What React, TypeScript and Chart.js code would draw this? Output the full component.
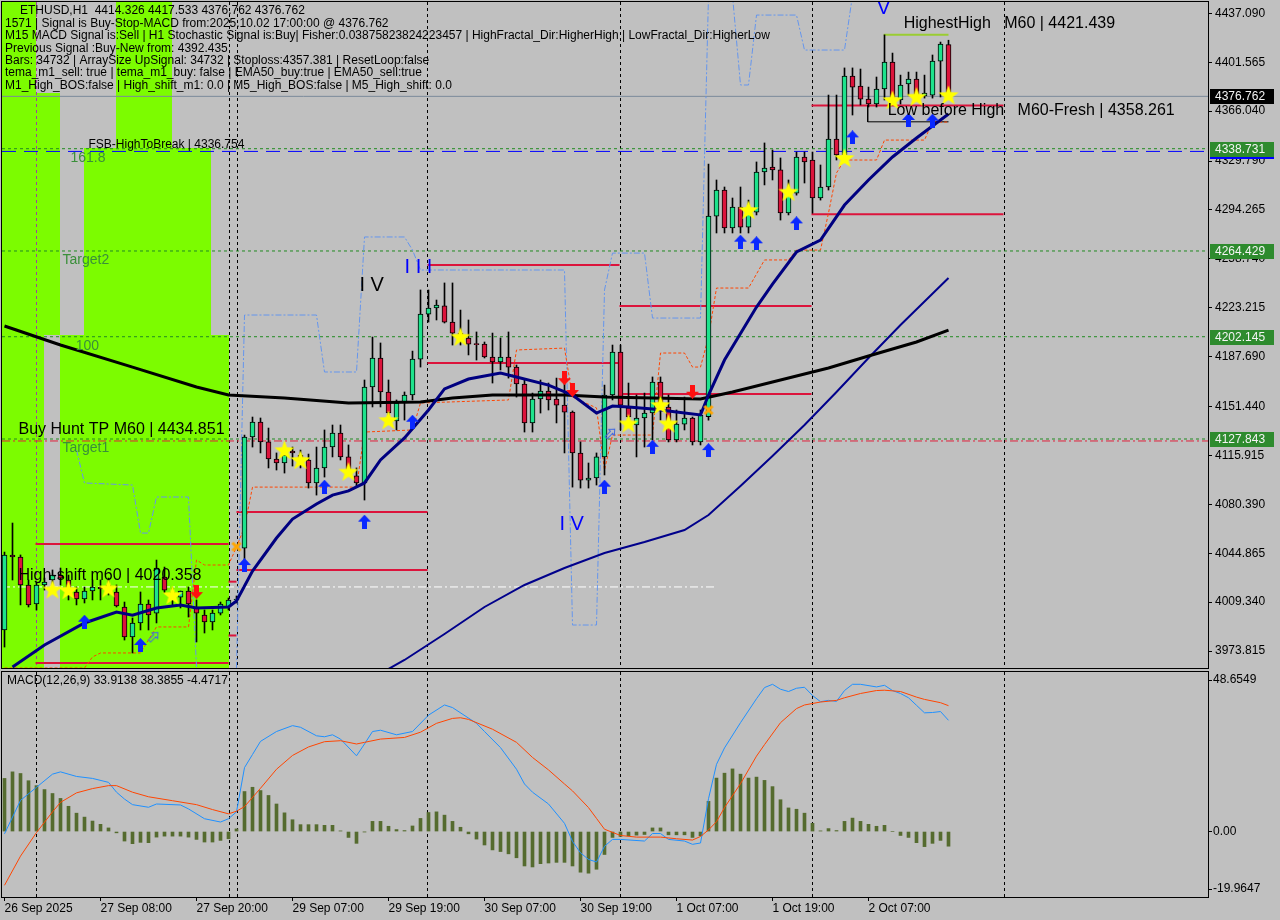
import React, { useEffect, useRef } from 'react';
import { Chart, registerables } from 'chart.js';

Chart.register(...registerables);

// ---------------- colours / fonts ----------------
const BG = '#c0c0c0';
const LIME = '#7cfc00';
const BULL = '#1ee38c';
const BEAR = '#dc143c';
const FONT = '"Liberation Sans", Arial, sans-serif';

// ---------------- candles (ETHUSD H1) ----------------
const OPEN = [3989.1,4043.6,4042.1,4021.8,4008.0,4021.8,4025.4,4029.0,4025.4,4016.7,
4011.6,4017.4,4020.3,4018.1,4016.7,4005.8,3984.0,3994.2,4008.0,4001.4,
4027.6,4016.7,4013.0,4017.4,4005.8,4000.0,3994.9,4001.4,4005.8,4010.9,
4048.6,4129.3,4140.2,4125.7,4113.3,4110.4,4119.1,4116.2,4112.6,4095.9,
4106.8,4122.0,4132.2,4114.8,4101.0,4095.9,4165.6,4186.7,4162.0,4140.9,
4154.0,4159.8,4185.9,4218.6,4223.0,4224.5,4212.8,4204.8,4201.2,4196.8,
4196.8,4187.4,4183.8,4187.4,4180.1,4167.8,4139.5,4156.9,4162.7,4156.9,
4152.5,4147.4,4117.7,4098.0,4099.5,4114.8,4159.8,4191.0,4150.4,4138.0,
4143.1,4146.7,4169.2,4151.1,4127.1,4138.7,4143.1,4125.7,4144.0,4289.8,
4308.7,4281.1,4296.4,4281.8,4292.7,4321.8,4325.4,4323.3,4292.0,4306.5,
4332.7,4330.5,4302.9,4310.9,4345.7,4334.2,4391.5,4384.3,4374.8,4371.2,
4382.1,4401.7,4374.1,4385.7,4389.3,4377.0,4377.7,4402.4,4414.326];
const HIGH = [4045.7,4066.8,4043.6,4025.4,4023.9,4026.8,4032.7,4034.1,4029.0,4020.3,
4020.3,4025.4,4025.4,4026.8,4021.8,4009.4,3997.8,4016.7,4010.9,4039.9,
4034.8,4019.6,4017.4,4020.3,4010.9,4003.6,4003.6,4009.4,4012.3,4013.8,
4130.7,4143.8,4143.1,4135.8,4117.7,4122.0,4122.0,4119.8,4116.9,4122.0,
4134.4,4138.0,4138.0,4123.5,4106.8,4170.7,4201.9,4197.6,4170.7,4156.2,
4162.0,4191.7,4236.1,4236.1,4228.8,4241.2,4241.2,4221.5,4214.3,4205.6,
4198.3,4204.8,4201.2,4205.6,4181.6,4170.7,4161.2,4170.7,4168.5,4172.1,
4172.9,4148.2,4125.7,4110.4,4117.7,4167.0,4196.1,4196.1,4168.5,4159.8,
4161.2,4172.9,4172.9,4159.8,4148.9,4158.3,4143.8,4148.9,4327.6,4316.0,
4310.9,4302.9,4310.9,4301.4,4329.1,4342.9,4337.8,4332.0,4316.0,4336.3,
4336.3,4336.3,4326.9,4377.7,4377.7,4397.4,4397.4,4396.6,4383.5,4390.8,
4421.4,4408.2,4392.2,4394.4,4394.4,4392.2,4406.8,4416.2,4417.533];
const LOW = [3976.7,4025.4,4007.3,4005.8,4003.6,4018.1,4018.1,4021.8,4010.9,4007.3,
4008.7,4010.9,4010.9,4014.5,4005.8,3981.8,3972.4,3989.1,3989.1,3994.2,
4016.0,4007.3,4005.1,3998.5,3980.4,3986.9,3989.1,4000.0,4003.6,4008.7,
4039.9,4122.0,4117.7,4106.8,4105.3,4103.1,4108.2,4106.8,4092.2,4087.1,
4100.2,4114.8,4112.6,4101.7,4092.9,4083.5,4151.1,4151.1,4140.2,4134.4,
4141.6,4156.2,4180.1,4212.8,4214.3,4212.1,4196.1,4196.1,4188.9,4185.2,
4186.7,4168.5,4178.0,4172.1,4158.3,4132.9,4132.9,4146.7,4148.9,4139.5,
4117.7,4092.9,4092.2,4092.2,4094.4,4101.7,4156.2,4134.4,4138.0,4114.8,
4122.0,4127.1,4141.6,4125.7,4125.7,4134.4,4123.5,4123.5,4141.6,4277.5,
4277.5,4277.5,4277.5,4277.5,4290.6,4312.4,4316.0,4286.9,4290.6,4305.0,
4313.8,4292.0,4301.4,4308.7,4330.5,4332.0,4363.2,4370.5,4369.0,4369.0,
4374.1,4371.2,4371.2,4377.7,4374.1,4375.5,4375.5,4376.3,4376.762];
const CLOSE = [4043.6,4042.1,4021.8,4007.3,4021.8,4023.9,4029.0,4026.8,4016.7,4011.6,
4017.4,4020.3,4018.9,4021.8,4006.5,3984.0,3994.2,4008.0,4000.0,4034.1,
4018.1,4012.3,4017.4,4008.0,4001.4,3994.9,4001.4,4008.0,4010.9,4011.6,
4129.3,4140.2,4125.7,4113.3,4110.4,4116.2,4117.7,4111.1,4095.9,4106.8,
4122.0,4132.2,4114.8,4105.3,4095.9,4165.6,4186.7,4162.0,4146.7,4154.0,
4159.8,4185.9,4218.6,4223.0,4225.2,4212.8,4204.8,4201.2,4196.8,4196.4,
4187.4,4183.8,4187.4,4180.1,4167.8,4139.5,4156.9,4162.7,4156.2,4152.5,
4147.4,4117.7,4098.0,4099.5,4114.8,4159.8,4191.0,4152.5,4143.8,4143.1,
4146.7,4169.2,4151.1,4127.1,4138.7,4143.1,4125.7,4145.3,4289.8,4308.7,
4281.1,4296.4,4281.8,4294.2,4321.8,4324.7,4323.3,4292.0,4306.5,4332.7,
4329.1,4302.9,4310.9,4345.7,4334.2,4391.5,4383.5,4374.8,4371.2,4382.1,
4401.7,4374.1,4385.0,4389.3,4376.3,4379.2,4402.4,4414.8,4376.762];

// ---------------- axes ----------------
const X_TICK_BARS = [0, 12, 24, 36, 48, 60, 72, 84, 96, 108];
const X_TICK_LABELS = ['26 Sep 2025', '27 Sep 08:00', '27 Sep 20:00', '29 Sep 07:00', '29 Sep 19:00',
  '30 Sep 07:00', '30 Sep 19:00', '1 Oct 07:00', '1 Oct 19:00', '2 Oct 07:00'];
const PRICE_TICKS = [4437.090, 4401.565, 4366.040, 4329.790, 4294.265, 4258.740, 4223.215,
  4187.690, 4151.440, 4115.915, 4080.390, 4044.865, 4009.340, 3973.815];
const X_MIN = -0.3125;
const X_MAX = 150.4375;
const Y_MIN = 3961.48;
const Y_MAX = 4445.30;
const MACD_MIN = -19.9647;
const MACD_MAX = 48.6549;
const MACD_TICK_POS = [46.21, 0, -17.58];
const MACD_TICK_LABELS = ['48.6549', '0.00', '-19.9647'];

// ---------------- moving averages ----------------
const EMA_BARS = [1,5,10,14,16,19,22,24,28,29,31,34,36,39,41,43,45,47,50,53,55,58,62,64,68,71,74,76,78,81,84,87,88,90,94,96,99,102,105,108,111,114,118];
const EMA_VALUES = [3962.2,3978.2,3994.2,4002.1,3999.9,4005.0,4007.2,4005.0,4005.8,4010.2,4031.9,4055.9,4069.7,4080.6,4087.1,4090.1,4095.9,4112.6,4128.6,4148.9,4164.2,4171.4,4175.8,4172.9,4167.0,4159.8,4146.7,4151.8,4151.1,4149.6,4147.4,4145.3,4159.8,4185.2,4223.7,4240.4,4263.7,4272.4,4297.8,4316.0,4332.7,4346.5,4363.9];
const SMA_BARS = [0,7,16,24,28,35,43,52,56,61,70,75,87,91,96,103,108,114,118];
const SMA_VALUES = [4209.9,4196.1,4180.1,4165.6,4159.8,4157.6,4154.0,4154.7,4157.6,4159.8,4159.8,4158.3,4156.9,4162.0,4169.2,4179.4,4188.1,4198.3,4207.0];
const SLOW_BARS = [48,50,55,60,65,70,75,80,85,88,92,96,100,104,108,112,118];
const SLOW_VALUES = [3960.8,3967.3,3986.2,4005.8,4021.8,4034.1,4045.0,4053.0,4061.7,4072.6,4093.7,4115.5,4138.0,4162.0,4186.7,4210.7,4244.8];

// ---------------- trailing stop (orange) ----------------
const ORANGE_BARS = [0,10,11,12,17,19,23,24,25,28,29,30,31,44,45,51,52,63,64,70,71,74,75,76,81,82,85,86,87,88,89,93,95,98,99,102,103,104,105,109,110,115,116,118];
const ORANGE_VALUES = [3961.5,3961.5,3969.5,3972.4,3972.4,3991.3,3991.3,4039.9,4036.3,4036.3,4049.4,4063.9,4092.9,4092.9,4132.9,4134.4,4154.0,4156.2,4192.5,4193.9,4158.3,4150.4,4105.3,4130.7,4130.7,4190.3,4190.3,4180.1,4180.1,4201.9,4237.5,4237.5,4257.9,4257.9,4265.1,4265.1,4292.0,4321.1,4330.5,4330.5,4345.0,4345.0,4358.1,4358.1];

// ---------------- channel (light blue dash-dot) ----------------
const CH_A_BARS = [9,10,16,17,18,19,23,24];
const CH_A_VALUES = [4119.8,4095.9,4094.4,4059.5,4059.5,4085.7,4085.7,3962.2];
const CH_B_BARS = [29,30,39,40,44,45,50,51,52,70,71,74,75,76,80,81,87,88,91,92,93,94,99,100,105,106];
const CH_B_VALUES = [3961.5,4217.9,4217.9,4176.5,4176.5,4274.6,4274.6,4265.1,4250.6,4250.6,3992.7,3992.7,4236.1,4262.9,4262.9,4215.7,4215.7,4450,4450,4385.0,4385.0,4435.8,4435.8,4410.4,4410.4,4450];

// ---------------- zones / levels ----------------
const ZONE_START = [X_MIN, X_MIN, 13.875, 10, X_MIN, 6.875];
const ZONE_END = [3.875, 6.875, 20.875, 25.875, 4.875, 28];
const ZONE_TOP = [4450, 4379.2, 4450, 4339.2, 4203.4, 4203.4];
const ZONE_BOTTOM = [4379.2, 4203.4, 4339.2, 4203.4, 3955, 3955];
const SEP_BARS = [3.875, 28, 29, 52.875, 76.875, 100.875, 124.875];
const SEG_START = [3.875, 3.875, 28, 28, 29, 29, 52.875, 52.875, 76.875, 76.875, 100.875, 100.875];
const SEG_END = [28, 28, 29, 29, 52.875, 52.875, 76.875, 76.875, 100.875, 100.875, 124.875, 124.875];
const SEG_PRICE = [4051.5, 3965.1, 4024.2, 3985.1, 4074.8, 4032.7, 4254.2, 4183.0, 4224.5, 4160.5, 4370.2, 4291.1];
const GREEN_LEVELS = [4338.731, 4264.429, 4202.145, 4127.843];
const GREEN_NAMES = ['161.8', 'Target2', '100', 'Target1'];
const GREEN_NAME_BARS = [8.25, 7.25, 8.9, 7.25];
const FSB_LEVEL = 4336.754;
const BUY_HUNT_LEVEL = 4126.4;
const CURRENT_PRICE = 4376.762;
const HIGH_SHIFT_LEVEL = 4020.358;
const HIGH_SHIFT_END = 88.9;
const HIGHEST_HIGH = 4421.439;
const LOW_BEFORE_HIGH = 4358.261;

// ---------------- signals ----------------
const STAR_BARS = [6,8,13,21,35,37,43,48,57,78,82,83,93,98,105,111,114,118];
const STAR_PRICES = [4018.6,4018.1,4019.4,4014.5,4119.8,4112.6,4104.1,4141.6,4202.1,4139.2,4152.5,4139.2,4294.2,4307.5,4332.0,4374.1,4376.5,4377.7];
const UP_BARS = [10,17,30,40,45,51,75,81,88,92,94,99,106,113,116];
const UP_PRICES = [3995.1,3978.2,4036.3,4093.2,4067.8,4140.4,4093.2,4122.2,4119.8,4271.2,4270.0,4284.5,4347.0,4359.6,4359.1];
const DOWN_BARS = [24, 70, 71, 86];
const DOWN_PRICES = [4016.6, 4172.0, 4163.4, 4162.2];
const CROSS_BARS = [29, 88];
const CROSS_PRICES = [4049.6, 4148.9];
const HOLLOW_BARS = [18.66, 75.75];
const HOLLOW_PRICES = [3984.2, 4132.0];

// ---------------- text annotations ----------------
const WAVE_TEXTS = ['I V', 'I I I', 'I V', 'V'];
const WAVE_BARS = [45.9, 51.75, 70.9, 109.9];
const WAVE_PRICES = [4239.0, 4252.1, 4065.4, 4440.9];
const WAVE_COLORS = ['#000000', '#0000ff', '#0000ff', '#0000ff'];
const LABEL_TEXTS = ['HighestHigh   M60 | 4421.439', 'Low before High   M60-Fresh | 4358.261', 'Buy Hunt TP M60 | 4434.851', 'High-shift m60 | 4020.358'];
const LABEL_BARS = [112.4, 110.4, 1.75, 1.75];
const LABEL_PRICES = [HIGHEST_HIGH, LOW_BEFORE_HIGH, BUY_HUNT_LEVEL, HIGH_SHIFT_LEVEL];
const INFO_LINES = [
  'ETHUSD,H1  4414.326 4417.533 4376.762 4376.762',
  '1571 | Signal is Buy-Stop-MACD from:2025.10.02 17:00:00 @ 4376.762',
  'M15 MACD Signal is:Sell | H1 Stochastic Signal is:Buy| Fisher:0.03875823824223457 | HighFractal_Dir:HigherHigh | LowFractal_Dir:HigherLow',
  'Previous Signal :Buy-New from: 4392.435',
  'Bars: 34732 | ArraySize UpSignal: 34732 | Stoploss:4357.381 | ResetLoop:false',
  'tema_m1_sell: true | tema_m1_buy: false | EMA50_buy:true | EMA50_sell:true',
  'M1_High_BOS:false | High_shift_m1: 0.0 | M5_High_BOS:false | M5_High_shift: 0.0',
];
const AXIS_BOX_PRICES = [FSB_LEVEL, CURRENT_PRICE, 4338.731, 4264.429, 4202.145, 4127.843];
const AXIS_BOX_COLORS = ['#0000ff', '#000000', '#2e8b2e', '#2e8b2e', '#2e8b2e', '#2e8b2e'];

// ---------------- MACD(12,26,9) ----------------
const HIST = [16.2,18.2,17.7,15.5,14.0,12.8,11.6,10.1,7.7,5.6,
4.4,3.2,2.2,1.1,-0.4,-2.9,-3.7,-3.3,-3.4,-1.7,
-1.4,-1.4,-1.4,-1.7,-2.4,-3.2,-3.2,-2.7,-2.2,0.8,
12.2,13.5,12.5,11.0,8.4,5.7,3.6,2.1,2.1,2.1,
1.9,1.9,0.2,-1.8,-3.6,-0.1,3.1,3.1,1.6,0.6,
0.3,1.7,4.0,5.8,6.0,5.0,3.1,1.3,-0.7,-2.3,
-4.1,-5.6,-6.1,-6.8,-8.0,-10.5,-10.8,-9.8,-9.6,-9.4,
-9.4,-10.5,-12.4,-12.7,-11.5,-7.0,-1.8,-1.5,-1.3,-1.1,
-0.9,1.1,1.1,-1.0,-1.0,-1.0,-1.8,-1.3,9.2,16.3,
17.8,19.1,17.5,16.3,16.6,15.6,13.7,9.7,7.2,6.8,
5.6,2.5,0.2,0.9,0.3,3.1,4.1,3.1,2.2,1.6,
1.9,0.0,-1.2,-1.8,-3.4,-4.6,-3.6,-2.7,-4.4717];
const MACD_BARS = [0,2,4,6,7,9,11,13,14,15,16,18,19,22,23,25,27,28,29,30,31,32,34,36,37,39,40,41,42,44,45,46,47,49,51,53,55,56,59,60,62,64,65,66,68,70,71,72,73,74,75,76,77,80,81,82,83,85,86,87,88,89,90,92,94,95,96,97,98,99,100,101,102,103,104,105,106,107,109,110,111,112,113,114,115,116,117,118];
const MACD_VALUES = [-0.7,9.5,13.5,17.5,18.2,16.8,16.2,15.0,12.0,9.9,8.2,7.4,8.4,8.1,6.9,3.9,2.9,3.9,6.0,19.5,23.5,27.5,30.5,32.3,31.8,29.2,28.9,29.5,28.2,23.1,26.7,30.5,30.9,29.5,30.5,35.5,38.6,37.8,33.0,30.5,25.6,19.0,14.5,12.0,8.4,2.5,-3.0,-6.5,-8.5,-9.3,-4.5,-2.4,-2.4,-2.9,-0.6,-0.6,-2.4,-2.9,-3.9,-3.5,10.0,20.5,25.5,33.2,40.5,43.9,44.9,43.4,42.7,43.7,44.0,41.5,39.6,40.0,39.7,43.0,44.9,44.9,44.1,44.6,43.0,42.1,40.8,38.5,36.2,36.3,36.6,33.9138];
const SIGNAL_BARS = [0,2,4,6,7,9,11,13,14,16,18,21,24,26,28,29,30,32,34,36,38,40,42,44,45,47,50,52,54,56,57,58,61,64,66,68,70,71,73,74,75,77,79,82,84,86,87,88,89,90,92,94,95,97,99,100,102,104,105,107,109,110,112,114,115,117,118];
const SIGNAL_VALUES = [-16.4,-7.5,-0.3,6.0,8.9,11.8,13.1,14.0,14.0,12.0,10.6,9.4,8.2,6.7,5.4,6.2,7.6,13.2,19.0,23.2,25.8,27.4,27.7,26.7,27.2,28.2,28.7,30.3,33.0,34.5,34.7,34.2,31.2,27.2,22.6,18.8,14.5,12.4,7.3,4.0,0.7,-1.2,-1.7,-1.7,-2.2,-2.6,-1.5,0.5,3.0,7.3,14.6,23.0,26.5,33.2,37.5,38.6,39.5,40.0,40.8,42.1,43.0,43.1,42.7,41.0,40.3,39.3,38.3855];
const MACD_TITLE = 'MACD(12,26,9) 33.9138 38.3855 -4.4717';

// ---------------- helpers ----------------
const pts = (bars: number[], vals: number[]) => bars.map((b, i) => ({ x: b, y: vals[i] }));
const hLine = (p: number, k1 = X_MIN, k2 = X_MAX) => [{ x: k1, y: p }, { x: k2, y: p }];
const lineDs = (data: any[], color: string, width: number, dash: number[], order: number): any => ({
  type: 'line', data, borderColor: color, borderWidth: width, borderDash: dash,
  pointRadius: 0, fill: false, tension: 0, spanGaps: true, order,
});

function mk(w: number, h: number, draw: (g: CanvasRenderingContext2D) => void) {
  const c = document.createElement('canvas');
  c.width = w; c.height = h;
  draw(c.getContext('2d') as CanvasRenderingContext2D);
  return c;
}
function makeMarkers() {
  const star = mk(22, 22, (g) => {
    g.beginPath();
    for (let i = 0; i < 10; i++) {
      const r = i % 2 === 0 ? 10.5 : 4.3;
      const a = -Math.PI / 2 + (i * Math.PI) / 5;
      const px = 11 + r * Math.cos(a), py = 11.8 + r * Math.sin(a);
      if (i === 0) g.moveTo(px, py); else g.lineTo(px, py);
    }
    g.closePath(); g.fillStyle = '#ffff00'; g.fill();
  });
  const arrow = (color: string, up: boolean) => mk(13, 14, (g) => {
    if (!up) { g.translate(0, 14); g.scale(1, -1); }
    g.beginPath();
    g.moveTo(6.5, 0); g.lineTo(13, 7); g.lineTo(9, 7); g.lineTo(9, 14);
    g.lineTo(4, 14); g.lineTo(4, 7); g.lineTo(0, 7); g.closePath();
    g.fillStyle = color; g.fill();
  });
  const cross = mk(12, 12, (g) => {
    g.strokeStyle = '#ffa500'; g.lineWidth = 3;
    g.beginPath(); g.moveTo(2, 2); g.lineTo(10, 10); g.moveTo(10, 2); g.lineTo(2, 10); g.stroke();
  });
  const hollow = mk(13, 13, (g) => {
    g.translate(6.5, 6.5); g.rotate(Math.PI / 4);
    g.beginPath();
    g.moveTo(0, -6); g.lineTo(4, -1.5); g.lineTo(1.5, -1.5); g.lineTo(1.5, 6);
    g.lineTo(-1.5, 6); g.lineTo(-1.5, -1.5); g.lineTo(-4, -1.5); g.closePath();
    g.strokeStyle = '#4169e1'; g.lineWidth = 1; g.stroke();
  });
  return { star, up: arrow('#0a28ff', true), down: arrow('#ff1010', false), cross, hollow };
}

// ---------------- plugins ----------------
const mainDecor: any = {
  id: 'mainDecor',
  beforeDatasetsDraw(chart: any) {
    const { ctx, chartArea: a, scales } = chart;
    const xs = scales.x, ys = scales.y;
    ctx.save();
    ctx.beginPath(); ctx.rect(a.left, a.top, a.right - a.left, a.bottom - a.top); ctx.clip();
    ctx.fillStyle = LIME;
    for (let i = 0; i < ZONE_START.length; i++) {
      const x1 = Math.round(xs.getPixelForValue(ZONE_START[i]));
      const x2 = Math.round(xs.getPixelForValue(ZONE_END[i]));
      const y1 = Math.round(ys.getPixelForValue(ZONE_TOP[i]));
      const y2 = Math.round(ys.getPixelForValue(ZONE_BOTTOM[i]));
      ctx.fillRect(x1, y1, x2 - x1, y2 - y1);
    }
    ctx.lineWidth = 1;
    ctx.setLineDash([3, 3]);
    SEP_BARS.forEach((b, i) => {
      const px = Math.round(xs.getPixelForValue(b)) + 0.5;
      ctx.strokeStyle = i === 0 ? '#a040a0' : '#000000';
      ctx.beginPath(); ctx.moveTo(px, a.top); ctx.lineTo(px, a.bottom); ctx.stroke();
    });
    ctx.restore();
  },
  afterDatasetsDraw(chart: any) {
    const { ctx, chartArea: a, scales } = chart;
    const xs = scales.x, ys = scales.y;
    ctx.save();
    ctx.beginPath(); ctx.rect(a.left, a.top, a.right - a.left, a.bottom - a.top); ctx.clip();
    ctx.font = `14px ${FONT}`; ctx.fillStyle = '#3a8f3a'; ctx.textAlign = 'left'; ctx.textBaseline = 'top';
    GREEN_LEVELS.forEach((p, i) => ctx.fillText(GREEN_NAMES[i], xs.getPixelForValue(GREEN_NAME_BARS[i]), ys.getPixelForValue(p) + 2));
    ctx.font = `12px ${FONT}`; ctx.fillStyle = '#000'; ctx.textBaseline = 'bottom';
    ctx.fillText('FSB-HighToBreak | 4336.754', xs.getPixelForValue(10.5), ys.getPixelForValue(FSB_LEVEL) - 1);
    ctx.font = `16px ${FONT}`;
    LABEL_TEXTS.forEach((t, i) => ctx.fillText(t, xs.getPixelForValue(LABEL_BARS[i]), ys.getPixelForValue(LABEL_PRICES[i]) - 3));
    ctx.font = `20px ${FONT}`; ctx.textAlign = 'center'; ctx.textBaseline = 'middle';
    WAVE_TEXTS.forEach((t, i) => {
      ctx.fillStyle = WAVE_COLORS[i];
      ctx.fillText(t, xs.getPixelForValue(WAVE_BARS[i]), ys.getPixelForValue(WAVE_PRICES[i]));
    });
    ctx.restore();
  },
  afterDraw(chart: any) {
    const { ctx, chartArea: a, scales } = chart;
    const ys = scales.y;
    ctx.save();
    ctx.strokeStyle = '#000'; ctx.lineWidth = 1;
    ctx.strokeRect(a.left - 0.5, a.top - 0.5, a.right - a.left + 1, a.bottom - a.top + 1);
    ctx.font = `12px ${FONT}`; ctx.textBaseline = 'middle'; ctx.textAlign = 'left';
    AXIS_BOX_PRICES.forEach((p, i) => {
      const y = Math.round(ys.getPixelForValue(p));
      ctx.fillStyle = AXIS_BOX_COLORS[i];
      ctx.fillRect(a.right + 2, y - 7, 64, 15);
      ctx.fillStyle = '#f4f4f4';
      ctx.fillText(p.toFixed(3), a.right + 7, y + 0.5);
    });
    ctx.fillStyle = '#000'; ctx.font = `12px ${FONT}`;
    const ys0 = [11, 23.5, 36, 48.5, 61, 73, 85.5];
    INFO_LINES.forEach((t, i) => ctx.fillText(t, i === 0 ? 20 : 5, ys0[i]));
    ctx.restore();
  },
};

const macdDecor: any = {
  id: 'macdDecor',
  beforeDatasetsDraw(chart: any) {
    const { ctx, chartArea: a, scales } = chart;
    ctx.save();
    ctx.strokeStyle = '#000'; ctx.lineWidth = 1; ctx.setLineDash([3, 3]);
    SEP_BARS.forEach((b) => {
      const px = Math.round(scales.x.getPixelForValue(b)) + 0.5;
      ctx.beginPath(); ctx.moveTo(px, a.top); ctx.lineTo(px, a.bottom); ctx.stroke();
    });
    ctx.restore();
  },
  afterDraw(chart: any) {
    const { ctx, chartArea: a } = chart;
    ctx.save();
    ctx.strokeStyle = '#000'; ctx.lineWidth = 1;
    ctx.strokeRect(a.left - 0.5, a.top - 0.5, a.right - a.left + 1, a.bottom - a.top + 1);
    ctx.fillStyle = '#000'; ctx.font = `12px ${FONT}`; ctx.textBaseline = 'middle'; ctx.textAlign = 'left';
    ctx.fillText(MACD_TITLE, a.left + 5, a.top + 9);
    ctx.restore();
  },
};

// ---------------- chart configs ----------------
function mainConfig(m: any): any {
  const idx = CLOSE.map((_, i) => i);
  const datasets: any[] = [
    { type: 'line', data: pts(STAR_BARS, STAR_PRICES), showLine: false, pointStyle: m.star, pointRadius: 6, order: 0 },
    { type: 'line', data: pts(UP_BARS, UP_PRICES), showLine: false, pointStyle: m.up, pointRadius: 6, order: 0 },
    { type: 'line', data: pts(DOWN_BARS, DOWN_PRICES), showLine: false, pointStyle: m.down, pointRadius: 6, order: 0 },
    { type: 'line', data: pts(CROSS_BARS, CROSS_PRICES), showLine: false, pointStyle: m.cross, pointRadius: 6, order: 0 },
    { type: 'line', data: pts(HOLLOW_BARS, HOLLOW_PRICES), showLine: false, pointStyle: m.hollow, pointRadius: 6, order: 0 },
    lineDs(pts(EMA_BARS, EMA_VALUES), '#000080', 3, [], 1),
    lineDs(pts(SMA_BARS, SMA_VALUES), '#000000', 3, [], 2),
    lineDs(pts(SLOW_BARS, SLOW_VALUES), '#00008b', 2, [], 2),
    {
      type: 'bar', data: idx.map((i) => ({ x: i, y: [OPEN[i], CLOSE[i]] })),
      backgroundColor: idx.map((i) => (CLOSE[i] >= OPEN[i] ? BULL : BEAR)),
      borderColor: '#000', borderWidth: 1, borderSkipped: false, barThickness: 5,
      minBarLength: 1, grouped: false, order: 3,
    },
    {
      type: 'bar', data: idx.map((i) => ({ x: i, y: [LOW[i], HIGH[i]] })),
      backgroundColor: '#000', borderWidth: 0, barThickness: 1, grouped: false, order: 4,
    },
    lineDs(pts(ORANGE_BARS, ORANGE_VALUES), '#ff4500', 1, [3, 2], 5),
    lineDs(pts(CH_A_BARS, CH_A_VALUES), '#6495ed', 1, [6, 2, 2, 2], 5),
    lineDs(pts(CH_B_BARS, CH_B_VALUES), '#6495ed', 1, [6, 2, 2, 2], 5),
    lineDs([{ x: 107.9, y: 4370.2 }, { x: 107.9, y: LOW_BEFORE_HIGH }, { x: 118, y: LOW_BEFORE_HIGH }], '#000', 1, [], 5),
    lineDs(hLine(HIGHEST_HIGH, 109.9, 118), '#9acd32', 2, [], 5),
    ...SEG_PRICE.map((p, i) => lineDs(hLine(p, SEG_START[i], SEG_END[i]), '#dc143c', 2, [], 5)),
    ...GREEN_LEVELS.map((p) => lineDs(hLine(p), '#228b22', 1, [3, 3], 6)),
    lineDs(hLine(FSB_LEVEL), '#0000ff', 1, [14, 8], 6),
    lineDs(hLine(BUY_HUNT_LEVEL), '#e0203c', 1, [8, 3, 2, 3], 6),
    lineDs(hLine(CURRENT_PRICE), '#7a8a9a', 1, [], 6),
    lineDs(hLine(HIGH_SHIFT_LEVEL, X_MIN, HIGH_SHIFT_END), '#ffffff', 1, [8, 3, 2, 3], 6),
  ];
  return {
    type: 'bar',
    data: { datasets },
    plugins: [mainDecor],
    options: {
      responsive: false, animation: false, events: [],
      layout: { autoPadding: false, padding: { left: 2, top: 2, right: 0, bottom: 2 } },
      plugins: { legend: { display: false }, tooltip: { enabled: false } },
      scales: {
        x: { type: 'linear', min: X_MIN, max: X_MAX, display: false, offset: false, grid: { offset: false } },
        y: {
          type: 'linear', position: 'right', min: Y_MIN, max: Y_MAX, beginAtZero: false,
          afterBuildTicks: (s: any) => { s.ticks = PRICE_TICKS.map((v) => ({ value: v })); },
          afterFit: (s: any) => { s.width = 72; s.paddingTop = 0; s.paddingBottom = 0; },
          ticks: { callback: (v: any) => Number(v).toFixed(3), color: '#000', font: { family: FONT, size: 12 }, padding: 3, autoSkip: false },
          grid: { drawOnChartArea: false, drawTicks: true, tickLength: 4, color: '#000' },
          border: { display: true, color: '#000' },
        },
      },
    },
  };
}

function macdConfig(): any {
  return {
    type: 'bar',
    data: {
      datasets: [
        lineDs(pts(SIGNAL_BARS, SIGNAL_VALUES), '#ff4500', 1, [], 0),
        lineDs(pts(MACD_BARS, MACD_VALUES), '#1e90ff', 1, [], 1),
        { type: 'bar', data: HIST.map((h, i) => ({ x: i, y: h })), backgroundColor: '#556b2f', barThickness: 3, grouped: false, order: 2 },
      ],
    },
    plugins: [macdDecor],
    options: {
      responsive: false, animation: false, events: [],
      layout: { autoPadding: false, padding: { left: 2, top: 2, right: 0, bottom: 0 } },
      plugins: { legend: { display: false }, tooltip: { enabled: false } },
      scales: {
        x: {
          type: 'linear', min: X_MIN, max: X_MAX, position: 'bottom', offset: false,
          afterBuildTicks: (s: any) => { s.ticks = X_TICK_BARS.map((v) => ({ value: v })); },
          afterFit: (s: any) => { s.height = 23; s.paddingLeft = 0; s.paddingRight = 0; },
          ticks: { callback: (_v: any, i: number) => X_TICK_LABELS[i], align: 'start', maxRotation: 0, minRotation: 0, autoSkip: false, padding: 0, color: '#000', font: { family: FONT, size: 12 } },
          grid: { drawOnChartArea: false, tickLength: 4, color: '#000', offset: false },
          border: { display: true, color: '#000' },
        },
        y: {
          type: 'linear', position: 'right', min: MACD_MIN, max: MACD_MAX, beginAtZero: false,
          afterBuildTicks: (s: any) => { s.ticks = MACD_TICK_POS.map((v) => ({ value: v })); },
          afterFit: (s: any) => { s.width = 72; s.paddingTop = 0; s.paddingBottom = 0; },
          ticks: { callback: (_v: any, i: number) => MACD_TICK_LABELS[i], color: '#000', font: { family: FONT, size: 12 }, padding: 1, autoSkip: false },
          grid: { drawOnChartArea: false, drawTicks: true, tickLength: 4, color: '#000' },
          border: { display: true, color: '#000' },
        },
      },
    },
  };
}

export default function App() {
  const mainRef = useRef<HTMLCanvasElement>(null);
  const macdRef = useRef<HTMLCanvasElement>(null);
  useEffect(() => {
    const markers = makeMarkers();
    const c1 = new Chart(mainRef.current as HTMLCanvasElement, mainConfig(markers));
    const c2 = new Chart(macdRef.current as HTMLCanvasElement, macdConfig());
    return () => { c1.destroy(); c2.destroy(); };
  }, []);
  return (
    <div style={{ position: 'fixed', left: 0, top: 0, width: 1280, height: 920, background: BG, overflow: 'hidden' }}>
      <canvas ref={mainRef} width={1280} height={670} style={{ position: 'absolute', left: 0, top: 0 }} />
      <canvas ref={macdRef} width={1280} height={250} style={{ position: 'absolute', left: 0, top: 670 }} />
    </div>
  );
}
